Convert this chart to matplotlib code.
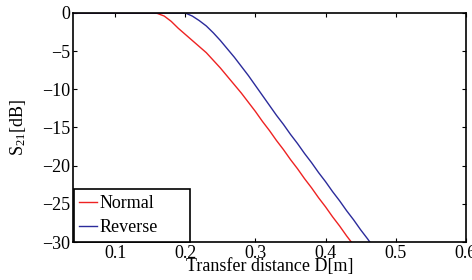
import matplotlib
matplotlib.use("Agg")
import matplotlib.pyplot as plt

distance = [0.04, 0.05, 0.06, 0.07, 0.08, 0.09, 0.10, 0.11, 0.12, 0.13, 0.14,
            0.15, 0.16, 0.17, 0.18, 0.19, 0.20, 0.21, 0.22, 0.23, 0.24, 0.25,
            0.26, 0.27, 0.28, 0.29, 0.30, 0.31, 0.32, 0.33, 0.34, 0.35, 0.36,
            0.37, 0.38, 0.39, 0.40, 0.41, 0.42, 0.43, 0.44, 0.45, 0.46, 0.47,
            0.48]
normal = [0, 0, 0, 0, 0, 0, 0, 0, 0, 0, 0,
          0, -0.05, -0.4, -1.1, -2.0, -2.8, -3.6, -4.4, -5.2, -6.2, -7.2,
          -8.3, -9.4, -10.5, -11.7, -12.9, -14.2, -15.4, -16.7, -17.9, -19.2, -20.4,
          -21.7, -22.9, -24.2, -25.4, -26.7, -27.9, -29.2, -30.4, -31.7, -32.9, -34.2,
          -35.4]
reverse = [0, 0, 0, 0, 0, 0, 0, 0, 0, 0, 0,
           0, 0, 0, 0, 0, 0, -0.4, -1.0, -1.7, -2.6, -3.6,
           -4.7, -5.8, -7.0, -8.2, -9.5, -10.8, -12.1, -13.4, -14.6, -15.9, -17.1,
           -18.4, -19.6, -20.9, -22.1, -23.4, -24.6, -25.9, -27.1, -28.4, -29.6, -30.9,
           -32.1]
xticks = [0.1, 0.2, 0.3, 0.4, 0.5, 0.6]
yticks = [0, -5, -10, -15, -20, -25, -30]

plt.rcParams['font.family'] = 'Liberation Serif'
plt.rcParams['mathtext.fontset'] = 'custom'
plt.rcParams['mathtext.rm'] = 'Liberation Serif'
plt.rcParams['mathtext.it'] = 'Liberation Serif:italic'

fig = plt.figure(figsize=(4.72, 2.8), dpi=100)
ax = fig.add_axes([0.1547, 0.1357, 0.8323, 0.8179])

ax.plot(distance, normal, color='#ee2222', lw=1.0, label='Normal')
ax.plot(distance, reverse, color='#2b2b9b', lw=1.0, label='Reverse')

ax.set_xlim(0.04, 0.6)
ax.set_ylim(-30, 0)
ax.set_xticks(xticks)
ax.set_xticklabels([str(t) for t in xticks])
ax.set_yticks(yticks)
ax.set_yticklabels(['0' if t == 0 else '\u2212' + str(-t) for t in yticks])
ax.tick_params(direction='in', top=True, right=True, labelsize=13, length=3,
               width=0.8, pad=2)
for s in ax.spines.values():
    s.set_linewidth(1.2)

ax.set_xlabel('Transfer distance D[m]', fontsize=13, labelpad=-3)
ax.set_ylabel('S$_{21}$[dB]', fontsize=13, labelpad=10)

# MATLAB-style legend box, wider than its text
leg = ax.legend(loc='lower left', bbox_to_anchor=(0.002, 0.002, 0.295, 0.2),
                mode='expand', fontsize=13, handlelength=1.0,
                handletextpad=0.1, borderaxespad=0.0, borderpad=0.3,
                labelspacing=0.4, fancybox=False, framealpha=1)
leg.get_frame().set_edgecolor('black')
leg.get_frame().set_linewidth(1.2)

fig.savefig('out.png', dpi=100)
